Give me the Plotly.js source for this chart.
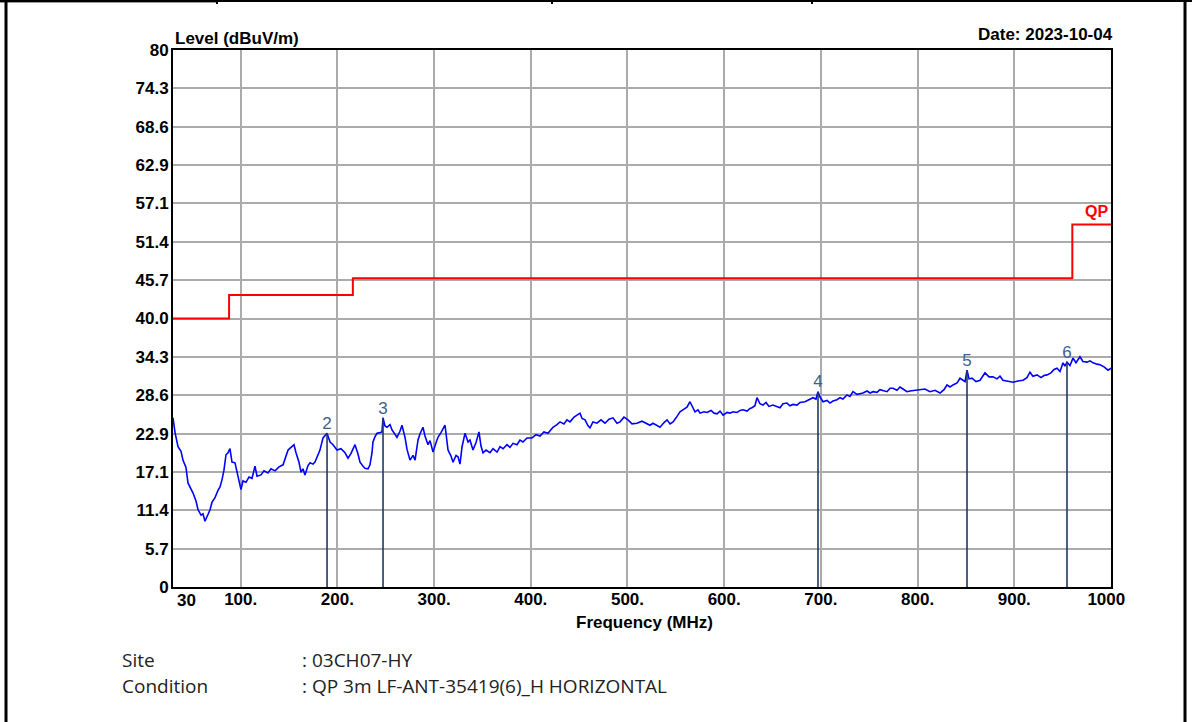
<!DOCTYPE html>
<html>
<head>
<meta charset="utf-8">
<script src="https://cdn.plot.ly/plotly-3.0.1.min.js"></script>
<style>
html,body{margin:0;padding:0;background:#fff;}
#chart{width:1192px;height:722px;}
</style>
</head>
<body>
<div id="chart"></div>
<script>
// Measured trace (MHz, dBuV/m)
const freq = [30.0,32.1,35.2,38.3,40.3,43.4,45.5,48.6,50.7,53.8,55.9,59.0,61.0,63.1,65.2,68.3,70.3,73.4,76.5,78.6,80.7,82.7,84.8,86.9,88.9,91.0,94.1,97.2,100.3,102.4,105.5,108.6,111.7,114.8,116.9,121.0,124.1,128.2,131.3,135.5,139.6,143.8,146.9,149.0,152.0,155.1,157.2,160.3,162.4,164.4,166.5,169.6,171.7,174.8,176.8,179.9,182.0,185.1,189.3,192.4,195.5,199.6,203.7,207.9,211.0,214.1,218.2,221.3,223.4,226.5,228.5,231.7,233.7,235.8,236.8,238.9,241.0,244.1,246.1,247.2,249.2,251.3,254.4,256.5,259.6,261.6,264.7,266.8,269.9,272.0,275.1,278.2,280.3,283.4,285.4,288.5,290.6,293.7,295.8,298.9,302.0,304.0,307.1,311.3,314.4,317.5,319.6,322.7,324.7,326.8,328.9,332.0,335.1,337.1,340.2,343.3,346.4,348.5,350.6,353.7,357.8,360.9,365.1,368.2,371.3,375.4,378.5,381.6,385.7,388.8,391.9,396.1,401.2,405.4,409.5,413.6,417.8,420.9,422.9,427.1,430.2,434.3,437.4,440.5,444.7,447.8,450.9,453.0,456.1,459.2,461.2,464.3,468.4,472.6,476.7,480.9,485.0,489.1,492.3,496.4,500.5,504.7,509.8,515.0,520.2,523.3,526.4,530.5,533.6,537.8,540.9,544.0,547.1,550.2,554.3,558.4,561.5,564.6,566.7,569.8,572.9,575.0,579.1,582.2,586.4,589.5,592.6,595.7,598.8,602.9,606.0,609.1,613.2,616.3,619.4,623.6,626.7,628.7,631.8,633.9,637.0,640.1,643.2,646.3,650.4,653.5,657.7,660.8,664.9,668.0,671.1,675.3,678.4,683.5,687.7,691.8,694.9,697.0,699.1,702.2,706.3,709.4,712.5,716.7,719.8,722.8,727.0,730.1,733.2,737.3,740.4,743.5,747.7,750.8,753.9,758.0,761.1,764.2,768.4,771.5,774.6,778.7,781.8,784.9,789.0,792.1,797.3,802.5,807.6,812.8,818.0,823.2,827.3,830.4,833.5,836.6,840.8,843.9,847.0,849.1,851.1,853.2,856.3,860.4,864.6,867.7,869.7,873.9,878.0,882.1,885.2,888.3,893.5,898.7,903.8,909.0,913.1,916.2,919.3,923.5,927.6,930.7,933.8,937.9,941.1,944.2,947.3,950.4,952.4,954.5,957.6,960.7,963.8,967.9,971.0,975.2,978.3,981.4,985.5,988.6,992.8,996.9,1000.0];
const level = [25.2,23.0,20.9,20.2,18.9,17.8,15.5,14.6,14.0,12.8,11.5,10.7,10.9,9.8,10.6,11.5,12.6,13.3,14.4,14.9,16.0,17.4,19.7,20.0,20.6,18.6,18.5,16.4,14.5,15.8,15.6,16.4,16.2,18.0,16.5,16.7,17.3,17.0,17.6,17.3,17.9,18.2,19.4,20.4,20.8,21.2,20.0,18.6,17.1,17.6,16.7,18.1,18.5,18.3,18.6,19.8,20.4,22.2,22.9,21.6,21.2,20.4,20.6,20.0,19.2,19.9,21.2,19.8,18.6,18.0,17.7,17.6,18.2,20.0,21.6,22.4,22.9,23.0,23.1,25.2,24.0,23.8,24.2,23.4,22.8,22.3,23.2,24.1,22.3,20.5,18.9,19.6,18.9,21.9,22.8,23.8,22.5,21.2,21.8,20.1,21.5,22.3,23.0,24.1,20.4,19.5,18.6,19.6,19.4,18.3,20.9,22.9,21.6,21.9,20.4,21.5,23.1,21.0,20.0,20.4,20.0,20.6,20.1,20.9,20.6,21.2,20.8,21.4,21.2,21.9,21.6,22.2,22.2,22.7,22.5,23.1,22.9,23.5,23.8,24.2,24.6,24.3,24.9,24.6,25.3,25.6,25.9,25.1,24.9,24.0,23.7,24.6,24.4,24.9,24.4,25.0,25.2,24.4,24.6,25.3,24.9,24.3,24.4,24.7,24.4,24.1,24.4,24.0,23.8,24.5,24.9,24.3,24.6,25.2,26.1,26.5,26.8,27.6,26.9,26.1,26.4,25.9,26.1,26.0,26.3,25.9,25.8,26.2,25.6,26.0,25.9,26.1,26.0,26.3,26.4,26.2,26.6,26.7,27.0,28.2,27.3,27.1,27.5,26.9,27.1,26.9,26.7,27.3,27.4,27.0,27.2,27.1,27.5,27.6,27.9,28.2,28.0,29.1,28.3,27.6,27.8,27.4,27.7,27.9,28.2,28.0,28.6,28.4,29.1,28.7,28.8,28.9,29.2,28.9,29.1,29.0,29.4,29.3,29.1,29.6,29.6,29.3,29.8,29.5,29.1,29.2,29.3,29.3,29.5,29.1,29.3,28.9,29.4,30.1,29.8,30.1,30.4,31.1,30.8,30.6,32.3,31.0,31.1,30.6,30.8,31.4,31.9,31.3,31.3,31.0,31.4,30.8,30.6,30.5,30.7,30.8,31.2,32.0,31.4,31.6,31.2,31.5,31.6,31.9,32.4,32.6,32.1,33.4,32.9,33.5,33.0,34.1,33.4,34.3,33.6,33.5,33.7,33.4,33.2,33.1,32.8,32.3,32.6];

// QP limit (step)
const limitFreq = [30, 88, 216, 960, 1000];
const limitLevel = [40.0, 43.5, 46.0, 54.0, 54.0];

// Markers
const markerNo = ["2", "3", "4", "5", "6"];
const markerFreq = [189.3, 247.2, 697.0, 851.1, 954.5];
const markerLevel = [22.9, 25.2, 29.1, 32.3, 33.5];

// Axis ticks
const xTickVals = [30, 100, 200, 300, 400, 500, 600, 700, 800, 900, 1000];
const xTickText = ["30", "100.", "200.", "300.", "400.", "500.", "600.", "700.", "800.", "900.", "1000"];
const yTickVals = [0, 5.714, 11.429, 17.143, 22.857, 28.571, 34.286, 40, 45.714, 51.429, 57.143, 62.857, 68.571, 74.286, 80];
const yTickText = ["0", "5.7", "11.4", "17.1", "22.9", "28.6", "34.3", "40.0", "45.7", "51.4", "57.1", "62.9", "68.6", "74.3", "80"];

// Build marker stems
const stemX = [], stemY = [];
markerFreq.forEach((f, i) => { stemX.push(f, f, null); stemY.push(0, markerLevel[i], null); });

const PL = 173, PR = 1111, PT = 50, PB = 587;
const px = v => (v - PL) / (PR - PL);
const py = v => (PB - v) / (PB - PT);

const FAM = "'Liberation Sans', Arial, sans-serif";
const boldFont = {family: FAM, size: 17, color: "#000", weight: "bold"};
const noteFont = {family: "'Open Sans', sans-serif", size: 19, color: "#222"};

// The first and last x labels sit inside the axis ends, as in the reference
const axisTickText = xTickText.map((t, i) => (i === 0 ? "" : (i === xTickText.length - 1 ? t + "\u00a0\u00a0" : t)));

const traces = [
  {x: limitFreq, y: limitLevel, mode: "lines", line: {color: "#ff0000", width: 2, shape: "hv"}, hoverinfo: "skip"},
  {x: freq, y: level, mode: "lines", line: {color: "#0000ff", width: 1.6}},
  {x: stemX, y: stemY, mode: "lines", line: {color: "#1d3a64", width: 1.6}, hoverinfo: "skip"},
  {x: markerFreq, y: markerLevel, mode: "text", text: markerNo, textposition: "top center",
   textfont: {family: FAM, size: 17, color: "#3d5f8e"}, hoverinfo: "skip"}
];

const layout = {
  width: 1192, height: 722,
  margin: {l: PL, r: 1192 - PR, t: PT, b: 722 - PB},
  paper_bgcolor: "#fff", plot_bgcolor: "#fff",
  showlegend: false,
  xaxis: {
    range: [30, 1000], tickvals: xTickVals, ticktext: axisTickText,
    showgrid: true, gridcolor: "#ababab", gridwidth: 2,
    showline: true, linecolor: "#000", linewidth: 2, mirror: true,
    ticks: "", zeroline: false, tickfont: boldFont, ticklabelstandoff: -4
  },
  yaxis: {
    range: [0, 80], tickvals: yTickVals, ticktext: yTickText,
    showgrid: true, gridcolor: "#ababab", gridwidth: 2,
    showline: true, linecolor: "#000", linewidth: 2, mirror: true,
    ticks: "", zeroline: false, tickfont: boldFont, ticklabelstandoff: -1
  },
  annotations: [
    {xref: "x", yref: "paper", x: xTickVals[0], xshift: 2, y: py(600), xanchor: "left", yanchor: "middle", showarrow: false,
     text: xTickText[0], font: boldFont},
    {xref: "paper", yref: "paper", x: 0, y: py(38), xanchor: "left", yanchor: "middle", showarrow: false,
     text: "<b>Level (dBuV/m)</b>", font: boldFont},
    {xref: "paper", yref: "paper", x: px(1115), y: py(35), xanchor: "right", yanchor: "middle", showarrow: false,
     text: "<b>Date: 2023-10-04</b>", font: boldFont},
    {xref: "paper", yref: "paper", x: px(644), y: py(622), xanchor: "center", yanchor: "middle", showarrow: false,
     text: "<b>Frequency (MHz)</b>", font: boldFont},
    {xref: "paper", yref: "y", x: px(1110), y: 54.4, xanchor: "right", yanchor: "bottom", showarrow: false,
     text: "<b>QP</b>", font: {family: FAM, size: 16, color: "#ff0000"}},
    {xref: "paper", yref: "paper", x: px(120), y: py(660), xanchor: "left", yanchor: "middle", showarrow: false,
     text: "Site", font: noteFont},
    {xref: "paper", yref: "paper", x: px(300), y: py(660), xanchor: "left", yanchor: "middle", showarrow: false,
     text: ": 03CH07-HY", font: noteFont},
    {xref: "paper", yref: "paper", x: px(120), y: py(686), xanchor: "left", yanchor: "middle", showarrow: false,
     text: "Condition", font: noteFont},
    {xref: "paper", yref: "paper", x: px(300), y: py(686), xanchor: "left", yanchor: "middle", showarrow: false,
     text: ": QP 3m LF-ANT-35419(6)_H HORIZONTAL", font: noteFont}
  ],
  shapes: [
    {type: "line", xref: "paper", yref: "paper", x0: px(0), x1: px(1192), y0: py(1), y1: py(1), line: {color: "#000", width: 2}},
    {type: "line", xref: "paper", yref: "paper", x0: px(0), x1: px(217), y0: py(2.5), y1: py(2.5), line: {color: "#9a9a9a", width: 1}},
    {type: "line", xref: "paper", yref: "paper", x0: px(6), x1: px(6), y0: py(2), y1: py(722), line: {color: "#000", width: 3}},
    {type: "line", xref: "paper", yref: "paper", x0: px(1185), x1: px(1185), y0: py(2), y1: py(722), line: {color: "#000", width: 3}},
    {type: "line", xref: "paper", yref: "paper", x0: px(217), x1: px(217), y0: py(0), y1: py(4), line: {color: "#000", width: 2}},
    {type: "line", xref: "paper", yref: "paper", x0: px(552), x1: px(552), y0: py(0), y1: py(4), line: {color: "#000", width: 2}},
    {type: "line", xref: "paper", yref: "paper", x0: px(812), x1: px(812), y0: py(0), y1: py(4), line: {color: "#000", width: 2}}
  ]
};

Plotly.newPlot("chart", traces, layout, {displayModeBar: false, staticPlot: true});
</script>
</body>
</html>
